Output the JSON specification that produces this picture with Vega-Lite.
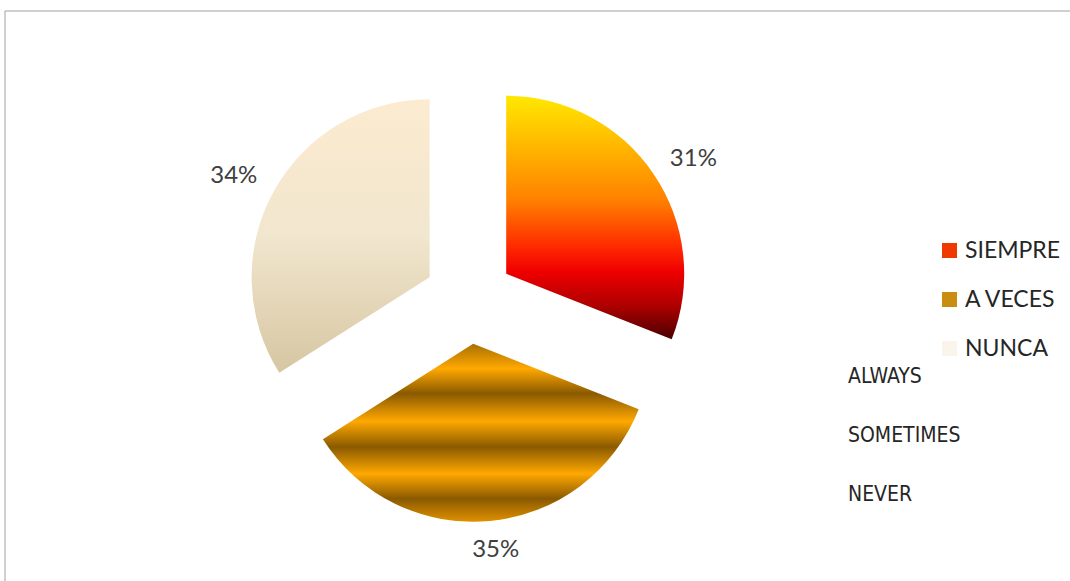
{
  "$schema": "https://vega.github.io/schema/vega-lite/v6.json",
  "width": 1080,
  "height": 580,
  "padding": {"left": 4, "top": 10, "right": 0, "bottom": 0},
  "background": "white",
  "config": {"view": {"stroke": null}},
  "data": {
    "values": [
      {"cat": "SIEMPRE", "en": "ALWAYS", "pct": 0.31},
      {"cat": "A VECES", "en": "SOMETIMES", "pct": 0.35},
      {"cat": "NUNCA", "en": "NEVER", "pct": 0.34}
    ]
  },
  "layer": [
    {
      "data": {"values": [{"frame": 1}]},
      "mark": {"type": "rect", "filled": false, "color": "#A0A0A0", "strokeWidth": 1},
      "encoding": {}
    },
    {
      "mark": {
        "type": "arc", "radius": 178, "xOffset": -38.8, "yOffset": -27.3,
        "fill": {"gradient": "linear", "x1": 0, "y1": 0, "x2": 0, "y2": 1,
          "stops": [
            {"offset": 0, "color": "#FFE800"},
            {"offset": 0.22, "color": "#FFB400"},
            {"offset": 0.43, "color": "#FF8000"},
            {"offset": 0.62, "color": "#FF2A00"},
            {"offset": 0.72, "color": "#F00000"},
            {"offset": 0.86, "color": "#B00000"},
            {"offset": 1, "color": "#4A0000"}
          ]}
      },
      "encoding": {
        "theta": {"field": "pct", "type": "quantitative", "stack": true},
        "fillOpacity": {"condition": {"test": "datum.cat === 'SIEMPRE'", "value": 1}, "value": 0}
      }
    },
    {
      "mark": {
        "type": "arc", "radius": 178, "xOffset": -71.8, "yOffset": 42.8,
        "fill": {"gradient": "linear", "x1": 0, "y1": 0, "x2": 0, "y2": 1,
          "stops": [
            {"offset": 0, "color": "#A87000"},
            {"offset": 0.14, "color": "#FFA800"},
            {"offset": 0.28, "color": "#8A5A00"},
            {"offset": 0.435, "color": "#FFA800"},
            {"offset": 0.58, "color": "#8A5A00"},
            {"offset": 0.73, "color": "#FFA800"},
            {"offset": 0.87, "color": "#8A5A00"},
            {"offset": 1, "color": "#E09000"}
          ]}
      },
      "encoding": {
        "theta": {"field": "pct", "type": "quantitative", "stack": true},
        "fillOpacity": {"condition": {"test": "datum.cat === 'A VECES'", "value": 1}, "value": 0}
      }
    },
    {
      "mark": {
        "type": "arc", "radius": 178, "xOffset": -115.4, "yOffset": -23.7,
        "fill": {"gradient": "linear", "x1": 0, "y1": 0, "x2": 0, "y2": 1,
          "stops": [
            {"offset": 0, "color": "#FCEBD0"},
            {"offset": 0.5, "color": "#F1E6CE"},
            {"offset": 1, "color": "#D6C6A2"}
          ]}
      },
      "encoding": {
        "theta": {"field": "pct", "type": "quantitative", "stack": true},
        "fillOpacity": {"condition": {"test": "datum.cat === 'NUNCA'", "value": 1}, "value": 0}
      }
    },
    {
      "transform": [{"window": [{"op": "row_number", "as": "idx"}]}],
      "mark": {"type": "text", "radius": 219, "xOffset": -32.8, "yOffset": -19.3, "font": "Lato", "fontSize": 24, "color": "#404040", "align": "center", "baseline": "middle"},
      "encoding": {
        "theta": {"field": "pct", "type": "quantitative", "stack": true},
        "order": {"field": "idx", "type": "quantitative"},
        "text": {"field": "pct", "type": "quantitative", "format": ".0%"},
        "opacity": {"condition": {"test": "datum.cat === 'SIEMPRE'", "value": 1}, "value": 0}
      }
    },
    {
      "transform": [{"window": [{"op": "row_number", "as": "idx"}]}],
      "mark": {"type": "text", "radius": 207, "xOffset": -68.8, "yOffset": 42.8, "font": "Lato", "fontSize": 24, "color": "#404040", "align": "center", "baseline": "middle"},
      "encoding": {
        "theta": {"field": "pct", "type": "quantitative", "stack": true},
        "order": {"field": "idx", "type": "quantitative"},
        "text": {"field": "pct", "type": "quantitative", "format": ".0%"},
        "opacity": {"condition": {"test": "datum.cat === 'A VECES'", "value": 1}, "value": 0}
      }
    },
    {
      "transform": [{"window": [{"op": "row_number", "as": "idx"}]}],
      "mark": {"type": "text", "radius": 220, "xOffset": -118.4, "yOffset": -18.7, "font": "Lato", "fontSize": 24, "color": "#404040", "align": "center", "baseline": "middle"},
      "encoding": {
        "theta": {"field": "pct", "type": "quantitative", "stack": true},
        "order": {"field": "idx", "type": "quantitative"},
        "text": {"field": "pct", "type": "quantitative", "format": ".0%"},
        "opacity": {"condition": {"test": "datum.cat === 'NUNCA'", "value": 1}, "value": 0}
      }
    },
    {
      "mark": {"type": "point", "filled": true, "opacity": 0},
      "encoding": {
        "color": {
          "field": "cat", "type": "nominal",
          "scale": {"domain": ["SIEMPRE", "A VECES", "NUNCA"], "range": ["#EE3A00", "#C98D12", "#FBF4EA"]},
          "legend": {
            "orient": "none", "legendX": 933, "legendY": 228, "title": null, "padding": 0,
            "symbolSize": 225, "symbolType": "square", "symbolOpacity": 1, "symbolStrokeWidth": 0,
            "labelFont": "Lato", "labelFontSize": 23, "labelColor": "#262626", "labelOffset": 4, "rowPadding": 25
          }
        },
        "shape": {
          "field": "en", "type": "nominal",
          "scale": {"domain": ["ALWAYS", "SOMETIMES", "NEVER"]},
          "legend": {
            "orient": "none", "legendX": 822, "legendY": 355, "title": null, "padding": 0,
            "symbolSize": 0, "symbolOpacity": 0, "symbolStrokeWidth": 0, "labelOffset": 0,
            "labelFont": "'Liberation Sans Narrow', 'DejaVu Sans Condensed', 'Roboto Condensed', Roboto, sans-serif",
            "labelFontSize": 21, "labelColor": "#262626", "rowPadding": 37
          }
        }
      }
    }
  ]
}
